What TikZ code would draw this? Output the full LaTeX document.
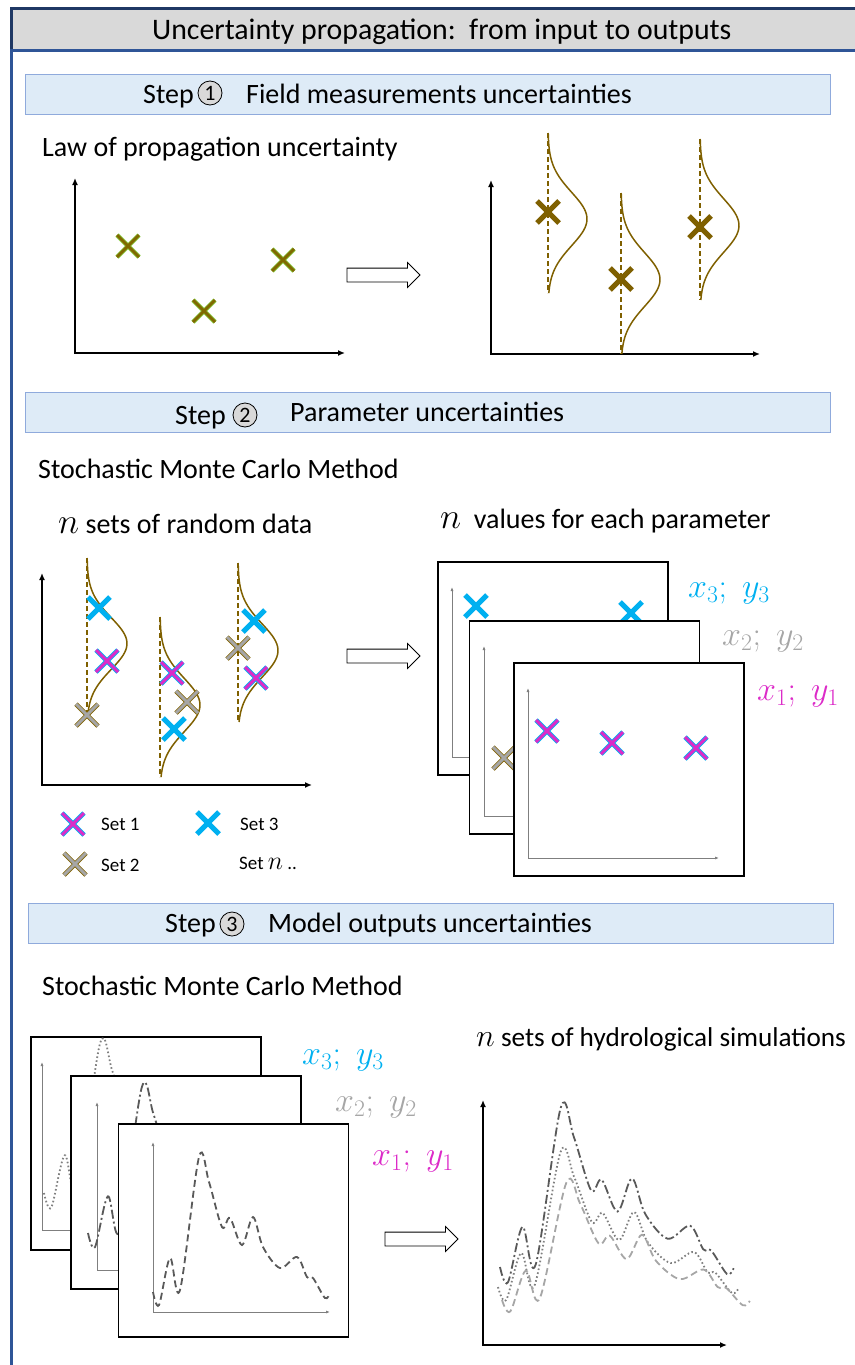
\RequirePackage{fix-cm}
\documentclass[tikz,border=0pt]{standalone}
\usepackage{fontspec}
\setmainfont{Carlito}
\usepackage{tikz}
\usetikzlibrary{arrows.meta,shapes.arrows,positioning}
\definecolor{navyb}{HTML}{1F3864}
\definecolor{midb}{HTML}{2F5597}
\definecolor{hdrgray}{HTML}{D9D9D9}
\definecolor{barfill}{HTML}{DEEBF7}
\definecolor{bardraw}{HTML}{8FAADC}
\definecolor{brownc}{HTML}{7F6000}
\definecolor{olivec}{HTML}{7F6A00}
\definecolor{lgreen}{HTML}{92D050}
\definecolor{cyanc}{HTML}{00B0F0}
\definecolor{magc}{HTML}{DC2BC8}
\definecolor{grayc}{HTML}{A6A6A6}
\definecolor{dgray}{HTML}{595959}
\definecolor{mgray}{HTML}{7F7F7F}

\begin{document}
\begin{tikzpicture}[
  x=1pt, y=-1pt,
  declare function={gau(\u)=exp(-0.5*\u*\u);},
  txt/.style={font=\fontsize{28}{34}\selectfont, anchor=base west, inner sep=0pt},
  smalltxt/.style={font=\fontsize{19}{23}\selectfont, anchor=base west, inner sep=0pt},
  labtxt/.style={font=\fontsize{34}{38}\selectfont, anchor=base west, inner sep=0pt},
  stepbar/.style={draw=bardraw, fill=barfill, line width=1pt, minimum width=805pt, minimum height=40pt, inner sep=0pt},
  numcirc/.style={circle, draw, fill=hdrgray, line width=0.8pt, minimum size=24pt, inner sep=0pt, font=\fontsize{22}{24}\selectfont},
  blockarrow/.style={single arrow, draw, fill=white, line width=0.8pt, minimum height=73pt, inner xsep=0pt, inner ysep=6.5pt, single arrow head extend=5.5pt},
  plotframe/.style={draw, fill=white, line width=1.6pt, minimum width=230pt, minimum height=213pt, inner sep=0pt},
  mainaxis/.style={line width=1.8pt, {Latex[length=7pt,width=6pt]}-{Latex[length=7pt,width=6pt]}},
  inaxis/.style={draw=mgray, line width=0.8pt, {Latex[length=4pt,width=3pt]}-{Latex[length=4pt,width=3pt]}},
  meanline/.style={draw=brownc, line width=1.5pt, dash pattern=on 5pt off 3pt},
  pdfline/.style={draw=brownc, line width=1.5pt},
  ]
  \tikzset{%
    xmark/.pic={\draw[#1] (-11,-11) -- (11,11) (-11,11) -- (11,-11);},
    hydro/.pic={\draw[#1] plot[smooth, tension=0.55] coordinates {(0,0) (6,13) (17,-34) (27,-2) (46,-135) (56,-110) (69,-65) (77,-74) (89,-47) (100,-75) (110,-45) (127,-24) (144,-35) (154,-15) (160,-14) (172,6) (177,1)};},
    olivex/.style={draw=lgreen, double=olivec, double distance=3pt, line width=0.8pt},
    brownx/.style={draw=brownc, line width=5pt},
    setone/.style={draw=cyanc, double=magc, double distance=3pt, line width=0.9pt},
    settwo/.style={draw=brownc, double=grayc, double distance=3pt, line width=0.8pt},
    setthree/.style={draw=cyanc, line width=5pt},
    simdash/.style={draw=dgray, line width=1.8pt, dash pattern=on 7pt off 4pt},
    simlight/.style={draw=grayc, line width=1.8pt, dash pattern=on 7pt off 4pt},
    simdot/.style={draw=mgray, line width=1.8pt, dash pattern=on 1.6pt off 2.4pt},
    simdashdot/.style={draw=dgray, line width=1.8pt, dash pattern=on 9pt off 3pt on 2pt off 3pt},
  }
  \newcommand{\bign}{{\fontsize{36}{40}\selectfont$n$}}
  \useasboundingbox (0,0) rectangle (854,1365);
  %Frame and title
  \fill[hdrgray] (11,8) rectangle (870,50);
  \draw[navyb, line width=3pt] (870,8) -- (11,8) -- (11,50);
  \draw[midb, line width=3pt] (870,50) -- (11,50) -- (11,1380);
  \node[txt, font=\fontsize{29.8}{34}\selectfont] (title) at (152,39) {Uncertainty propagation:\ \ from input to outputs};

  %Step 1
  \node[stepbar] (bar1) at (427.5,94) {};
  \node[txt] (s1step) at (143,103) {Step};
  \node[numcirc] (s1num) at (210,93) {1};
  \node[txt] (s1text) at (246,103) {Field measurements uncertainties};
  \node[txt] (law) at (42,156) {Law of propagation uncertainty};
  \draw[mainaxis] (75,178) -- (75,353) -- (345,353);
  \pic at (128,246) {xmark=olivex};
  \pic at (204,311) {xmark=olivex};
  \pic at (283,260) {xmark=olivex};
  \node[blockarrow] (ar1) at (380,275) {};
  \draw[mainaxis] (491,180) -- (491,354) -- (760,354);
  \foreach \gx/\gt/\gb [evaluate=\gt as \gm using (\gt+\gb)/2+6, evaluate=\gt as \gs using (\gb-\gt)/6] in {548/133/293, 621/193/354, 700/139/300}{
    \draw[meanline] (\gx,\gt) -- (\gx,\gb);
    \draw[pdfline] plot[domain=\gt:\gb, samples=60, variable=\t] ({\gx+39*gau((\t-\gm)/\gs)}, \t);
  }
  \pic at (548,212) {xmark=brownx};
  \pic at (621,279) {xmark=brownx};
  \pic at (700,227) {xmark=brownx};

  %Step 2
  \node[stepbar] (bar2) at (427.5,412) {};
  \node[txt] (s2step) at (175,424) {Step};
  \node[numcirc] (s2num) at (245,415) {2};
  \node[txt] (s2text) at (290,421) {Parameter uncertainties};
  \node[txt] (mc1) at (38,478) {Stochastic Monte Carlo Method};
  \node[txt] (rnd) at (58,533) {\bign\ sets of random data};
  \node[txt] (vals) at (440,528) {\bign\ \ values for each parameter};
  \draw[mainaxis] (42,573) -- (42,785) -- (312,785);
  \foreach \gx/\gt/\gb [evaluate=\gt as \gm using (\gt+\gb)/2+8, evaluate=\gt as \gs using (\gb-\gt)/6] in {87/558/713, 160/617/777, 238/563/722}{
    \draw[meanline] (\gx,\gt) -- (\gx,\gb);
    \draw[pdfline] plot[domain=\gt:\gb, samples=60, variable=\t] ({\gx+40*gau((\t-\gm)/\gs)}, \t);
  }
  \pic at (99,608) {xmark=setthree};
  \pic at (107,661) {xmark=setone};
  \pic at (87,715) {xmark=settwo};
  \pic at (172,673) {xmark=setone};
  \pic at (187,702) {xmark=settwo};
  \pic at (174,729) {xmark=setthree};
  \pic at (254,621) {xmark=setthree};
  \pic at (238,648) {xmark=settwo};
  \pic at (256,678) {xmark=setone};
  %Legend
  \pic at (73,824) {xmark=setone};
  \node[smalltxt] (leg1) at (101,830) {Set 1};
  \pic at (208,823) {xmark=setthree};
  \node[smalltxt] (leg3) at (240,830) {Set 3};
  \pic at (75,864) {xmark=settwo};
  \node[smalltxt] (leg2) at (101,871) {Set 2};
  \node[smalltxt] (legn) at (239,869) {Set {\fontsize{26}{28}\selectfont$n$} ..};
  \node[blockarrow] (ar2) at (380,656) {};
  %Stacked parameter sets
  \node[plotframe] (p3) at (553,668.5) {};
  \draw[inaxis] (452,587) -- (452,757) -- (650,757);
  \pic at (476,606) {xmark=setthree};
  \pic at (631,613) {xmark=setthree};
  \node[plotframe] (p2) at (584.5,727.5) {};
  \draw[inaxis] (484,646) -- (484,816) -- (680,816);
  \pic at (504,758) {xmark=settwo};
  \node[plotframe] (p1) at (629,769.5) {};
  \draw[inaxis] (528,688) -- (528,858) -- (719,858);
  \pic at (547,731) {xmark=setone};
  \pic at (612,743) {xmark=setone};
  \pic at (696,748) {xmark=setone};
  \node[labtxt, text=cyanc] (lab3a) at (688,597) {$x_3;\;y_3$};
  \node[labtxt, text=grayc] (lab2a) at (722,645) {$x_2;\;y_2$};
  \node[labtxt, text=magc] (lab1a) at (757,700) {$x_1;\;y_1$};

  %Step 3
  \node[stepbar] (bar3) at (431,923) {};
  \node[txt] (s3step) at (165,932) {Step};
  \node[numcirc] (s3num) at (232,924) {3};
  \node[txt] (s3text) at (268,932) {Model outputs uncertainties};
  \node[txt] (mc2) at (42,995) {Stochastic Monte Carlo Method};
  \node[plotframe] (g3) at (146,1143.5) {};
  \draw[inaxis] (42,1062) -- (42,1230) -- (240,1230);
  \pic[xscale=1.22, yscale=1.11] at (44,1193) {hydro=simdot};
  \node[plotframe] (g2) at (186,1182.5) {};
  \draw[inaxis] (97,1102) -- (97,1270) -- (280,1270);
  \pic[xscale=1.17, yscale=1.08] at (88,1233) {hydro=simdashdot};
  \node[plotframe] (g1) at (233.5,1230.5) {};
  \draw[inaxis] (153,1142) -- (153,1312) -- (330,1312);
  \pic at (153,1292) {hydro=simdash};
  \node[labtxt, text=cyanc] (lab3b) at (302,1064) {$x_3;\;y_3$};
  \node[labtxt, text=grayc] (lab2b) at (335,1111) {$x_2;\;y_2$};
  \node[labtxt, text=magc] (lab1b) at (372,1165) {$x_1;\;y_1$};
  \node[blockarrow] (ar3) at (418,1239) {};
  \node[txt, font=\fontsize{27.2}{32}\selectfont] (sims) at (476,1046) {{\fontsize{32}{36}\selectfont$n$}\ sets of hydrological simulations};
  \draw[mainaxis] (483,1100) -- (483,1345) -- (727,1345);
  \pic[xscale=1.32, yscale=1.18] at (500,1267) {hydro=simdashdot};
  \pic[xscale=1.36, yscale=1.0] at (498,1287) {hydro=simdot};
  \pic[xscale=1.4, yscale=0.87] at (502,1300) {hydro=simlight};
\end{tikzpicture}
\end{document}
